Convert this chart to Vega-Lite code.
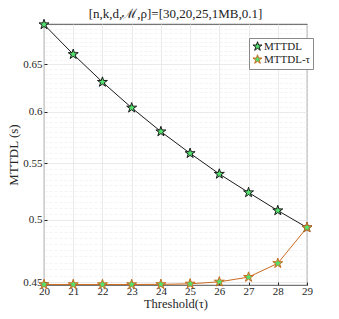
{
  "$schema": "https://vega.github.io/schema/vega-lite/v6.json",
  "width": 263,
  "height": 261,
  "autosize": {"type": "none"},
  "padding": {"left": 44, "top": 24, "right": 32, "bottom": 34},
  "background": "white",
  "config": {
    "font": "Liberation Serif",
    "view": {"stroke": "#262626", "strokeWidth": 0.8},
    "axis": {"labelColor": "#262626", "titleColor": "#262626", "titleFontWeight": "normal"}
  },
  "title": {"text": "[n,k,d,ℳ,ρ]=[30,20,25,1MB,0.1]", "fontSize": 13, "fontWeight": "normal", "color": "#222222", "offset": -4},
  "data": {
    "values": [
      {"threshold": 20, "series": "MTTDL", "mttdl": 0.6952},
      {"threshold": 21, "series": "MTTDL", "mttdl": 0.6611},
      {"threshold": 22, "series": "MTTDL", "mttdl": 0.6308},
      {"threshold": 23, "series": "MTTDL", "mttdl": 0.6040},
      {"threshold": 24, "series": "MTTDL", "mttdl": 0.5802},
      {"threshold": 25, "series": "MTTDL", "mttdl": 0.5593},
      {"threshold": 26, "series": "MTTDL", "mttdl": 0.5401},
      {"threshold": 27, "series": "MTTDL", "mttdl": 0.5235},
      {"threshold": 28, "series": "MTTDL", "mttdl": 0.5078},
      {"threshold": 29, "series": "MTTDL", "mttdl": 0.4934},
      {"threshold": 20, "series": "MTTDL-τ", "mttdl": 0.4482},
      {"threshold": 21, "series": "MTTDL-τ", "mttdl": 0.4482},
      {"threshold": 22, "series": "MTTDL-τ", "mttdl": 0.4482},
      {"threshold": 23, "series": "MTTDL-τ", "mttdl": 0.4482},
      {"threshold": 24, "series": "MTTDL-τ", "mttdl": 0.4483},
      {"threshold": 25, "series": "MTTDL-τ", "mttdl": 0.4487},
      {"threshold": 26, "series": "MTTDL-τ", "mttdl": 0.4502},
      {"threshold": 27, "series": "MTTDL-τ", "mttdl": 0.4538},
      {"threshold": 28, "series": "MTTDL-τ", "mttdl": 0.4645},
      {"threshold": 29, "series": "MTTDL-τ", "mttdl": 0.4934}
    ]
  },
  "layer": [
    {
      "mark": {"type": "line", "strokeWidth": 1},
      "encoding": {
        "x": {
          "field": "threshold", "type": "quantitative",
          "scale": {"domain": [20, 29], "nice": false, "zero": false},
          "axis": {"values": [20, 21, 22, 23, 24, 25, 26, 27, 28, 29], "title": "Threshold(τ)", "titleFontSize": 12.5, "labelFontSize": 11, "labelOverlap": false, "labelBound": false, "labelFlush": false, "grid": true, "gridColor": "#e4e4e4", "gridWidth": 0.8, "domain": false, "tickColor": "#262626", "tickSize": -3, "labelPadding": 3, "titlePadding": 1}
        },
        "y": {"field": "mttdl", "type": "quantitative",
          "scale": {"type": "log", "domain": [0.4478, 0.6958], "nice": false, "zero": false},
          "axis": {"values": [0.45, 0.5, 0.55, 0.6, 0.65], "labelExpr": "format(datum.value, '.2~f')", "labelOverlap": false, "labelBound": false, "title": "MTTDL (s)", "titleFontSize": 13, "labelFontSize": 11, "grid": true, "gridColor": "#e4e4e4", "gridWidth": 0.8, "domain": false, "tickColor": "#262626", "tickSize": -3, "labelPadding": 5, "titlePadding": 2}},
        "stroke": {"field": "series", "type": "nominal", "scale": {"domain": ["MTTDL", "MTTDL-τ"], "range": ["#1a1a1a", "#cc6a1f"]}}
      }
    },
    {
      "mark": {"type": "point", "shape": "M0,-1L0.2245,-0.309L0.9511,-0.309L0.3633,0.118L0.5878,0.809L0,0.382L-0.5878,0.809L-0.3633,0.118L-0.9511,-0.309L-0.2245,-0.309Z", "filled": true, "fill": "#52e36e", "size": 110, "strokeWidth": 1, "opacity": 1},
      "encoding": {
        "x": {"field": "threshold", "type": "quantitative",
          "axis": {"values": [20, 21, 22, 23, 24, 25, 26, 27, 28, 29], "title": "Threshold(τ)", "titleFontSize": 12.5, "labelFontSize": 11, "labelOverlap": false, "labelBound": false, "labelFlush": false, "grid": true, "gridColor": "#e4e4e4", "gridWidth": 0.8, "domain": false, "tickColor": "#262626", "tickSize": -3, "labelPadding": 3, "titlePadding": 1}},
        "y": {"field": "mttdl", "type": "quantitative", "axis": {"orient": "right", "values": [0.455, 0.46, 0.465, 0.47, 0.475, 0.48, 0.485, 0.49, 0.495, 0.505, 0.51, 0.515, 0.52, 0.525, 0.53, 0.535, 0.54, 0.545, 0.555, 0.56, 0.565, 0.57, 0.575, 0.58, 0.585, 0.59, 0.595, 0.605, 0.61, 0.615, 0.62, 0.625, 0.63, 0.635, 0.64, 0.645, 0.655, 0.66, 0.665, 0.67, 0.675, 0.68, 0.685, 0.69, 0.695], "labels": false, "title": null, "grid": true, "gridColor": "#ededed", "gridDash": [3, 2], "gridWidth": 0.6, "domain": false, "ticks": false}},
        "stroke": {"field": "series", "type": "nominal", "scale": {"domain": ["MTTDL", "MTTDL-τ"], "range": ["#1a1a1a", "#cc6a1f"]},
          "legend": {"title": null, "orient": "none", "legendX": 205, "legendY": 14, "symbolType": "M0,-1L0.2245,-0.309L0.9511,-0.309L0.3633,0.118L0.5878,0.809L0,0.382L-0.5878,0.809L-0.3633,0.118L-0.9511,-0.309L-0.2245,-0.309Z", "symbolFillColor": "#52e36e", "symbolSize": 90, "symbolStrokeWidth": 1, "labelFontSize": 11, "labelColor": "#222222", "rowPadding": -1, "labelOffset": 1, "padding": 3, "strokeColor": "#8a8a8a", "fillColor": "white"}}
      }
    }
  ],
  "resolve": {"axis": {"y": "independent"}}
}
